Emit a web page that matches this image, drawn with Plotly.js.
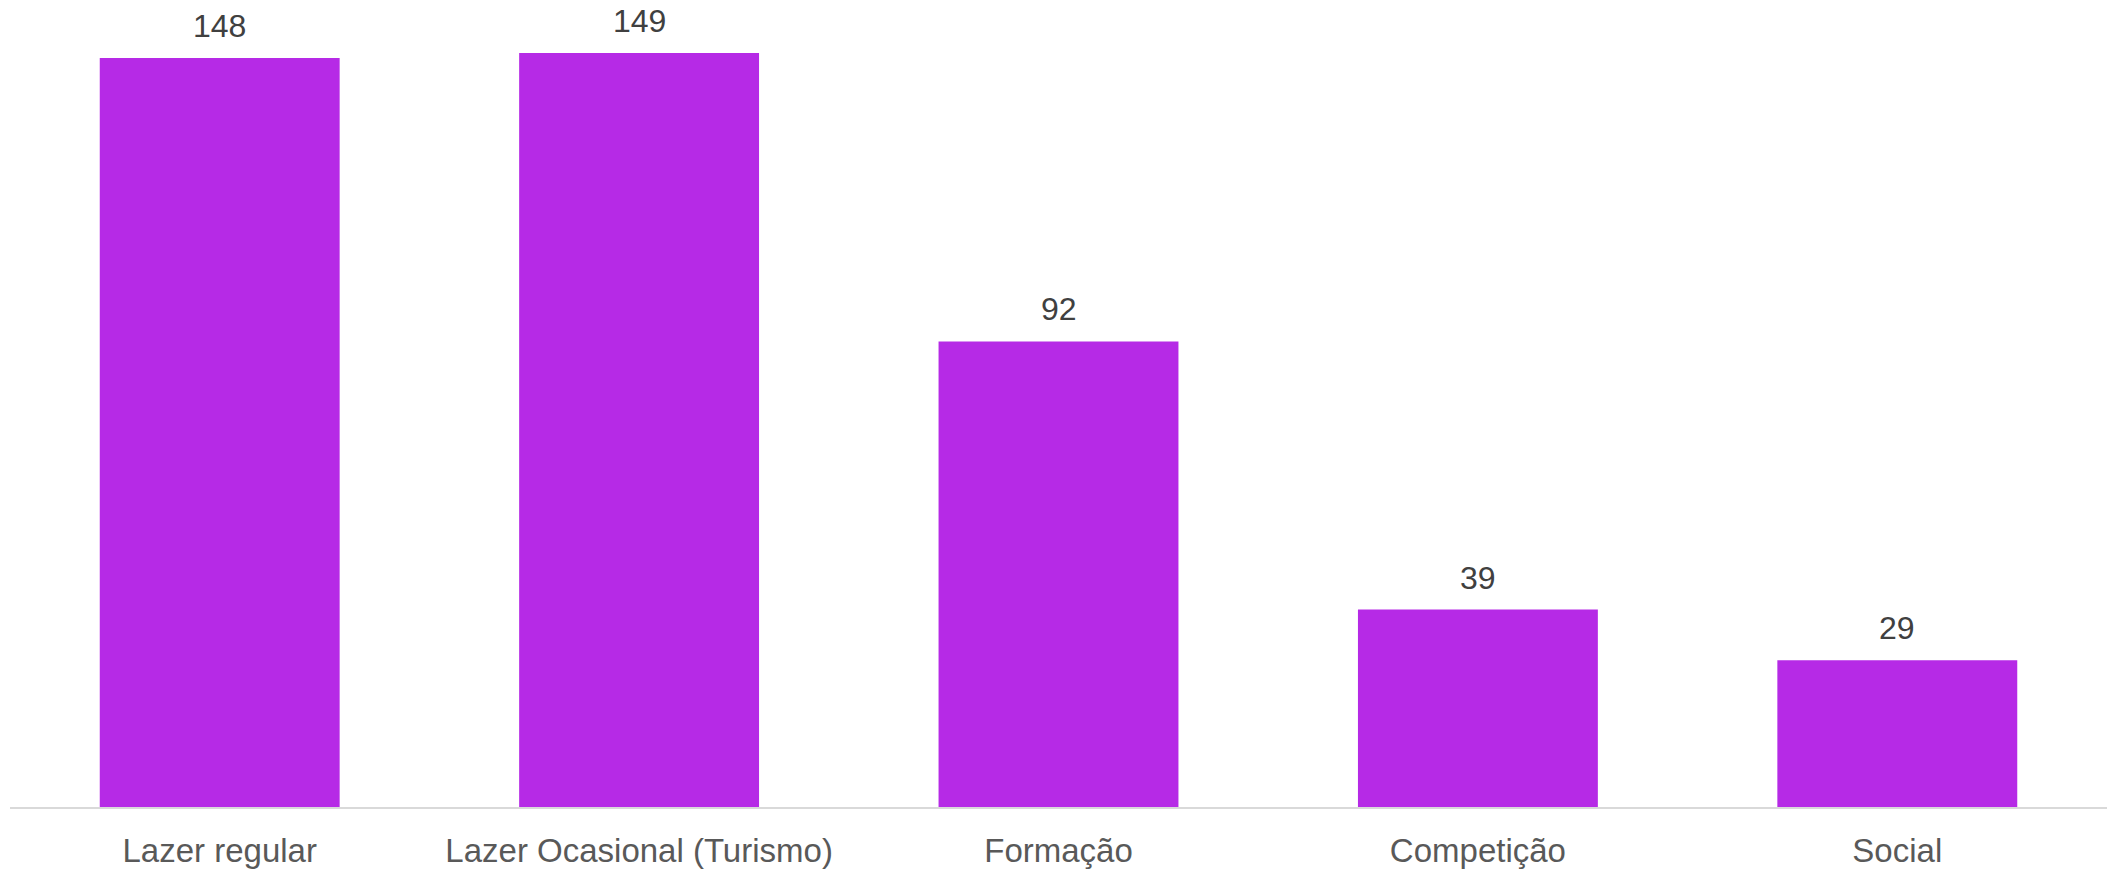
<!DOCTYPE html>
<html>
<head>
<meta charset="utf-8">
<script src="https://cdn.plot.ly/plotly-3.0.1.min.js"></script>
<style>html,body{margin:0;padding:0;background:#fff;}#chart{width:2107px;height:871px;}</style>
</head>
<body>
<div id="chart"></div>
<script>
var categories = ["Lazer regular", "Lazer Ocasional (Turismo)", "Formação", "Competição", "Social"];
var values = [148, 149, 92, 39, 29];
var valueLabels = ["148", "149", "92", "39", "29"];

var trace = {
  type: "bar",
  x: categories,
  y: values,
  marker: {color: "#b62ae6", line: {width: 0}},
  hoverinfo: "x+y"
};

var annotations = categories.map(function (c, i) {
  return {
    x: c,
    y: values[i],
    xref: "x",
    yref: "y",
    text: valueLabels[i],
    showarrow: false,
    xanchor: "center",
    yanchor: "bottom",
    yshift: 12,
    font: {family: "Liberation Sans, Arial, sans-serif", size: 32, color: "#404040"}
  };
});

var layout = {
  width: 2107,
  height: 871,
  margin: {l: 10, r: 0, t: 20, b: 64},
  paper_bgcolor: "#ffffff",
  plot_bgcolor: "#ffffff",
  bargap: 0.428,
  showlegend: false,
  font: {family: "Liberation Sans, Arial, sans-serif"},
  annotations: annotations,
  xaxis: {
    type: "category",
    showgrid: false,
    zeroline: false,
    showline: true,
    linecolor: "#d9d9d9",
    linewidth: 2,
    ticks: "",
    ticklabelstandoff: 13,
    tickfont: {size: 33, color: "#595959"},
    fixedrange: true
  },
  yaxis: {
    range: [0, 155.5],
    showgrid: false,
    zeroline: false,
    showline: false,
    showticklabels: false,
    ticks: "",
    fixedrange: true
  }
};

Plotly.newPlot("chart", [trace], layout, {displayModeBar: false, staticPlot: true});
</script>
</body>
</html>
